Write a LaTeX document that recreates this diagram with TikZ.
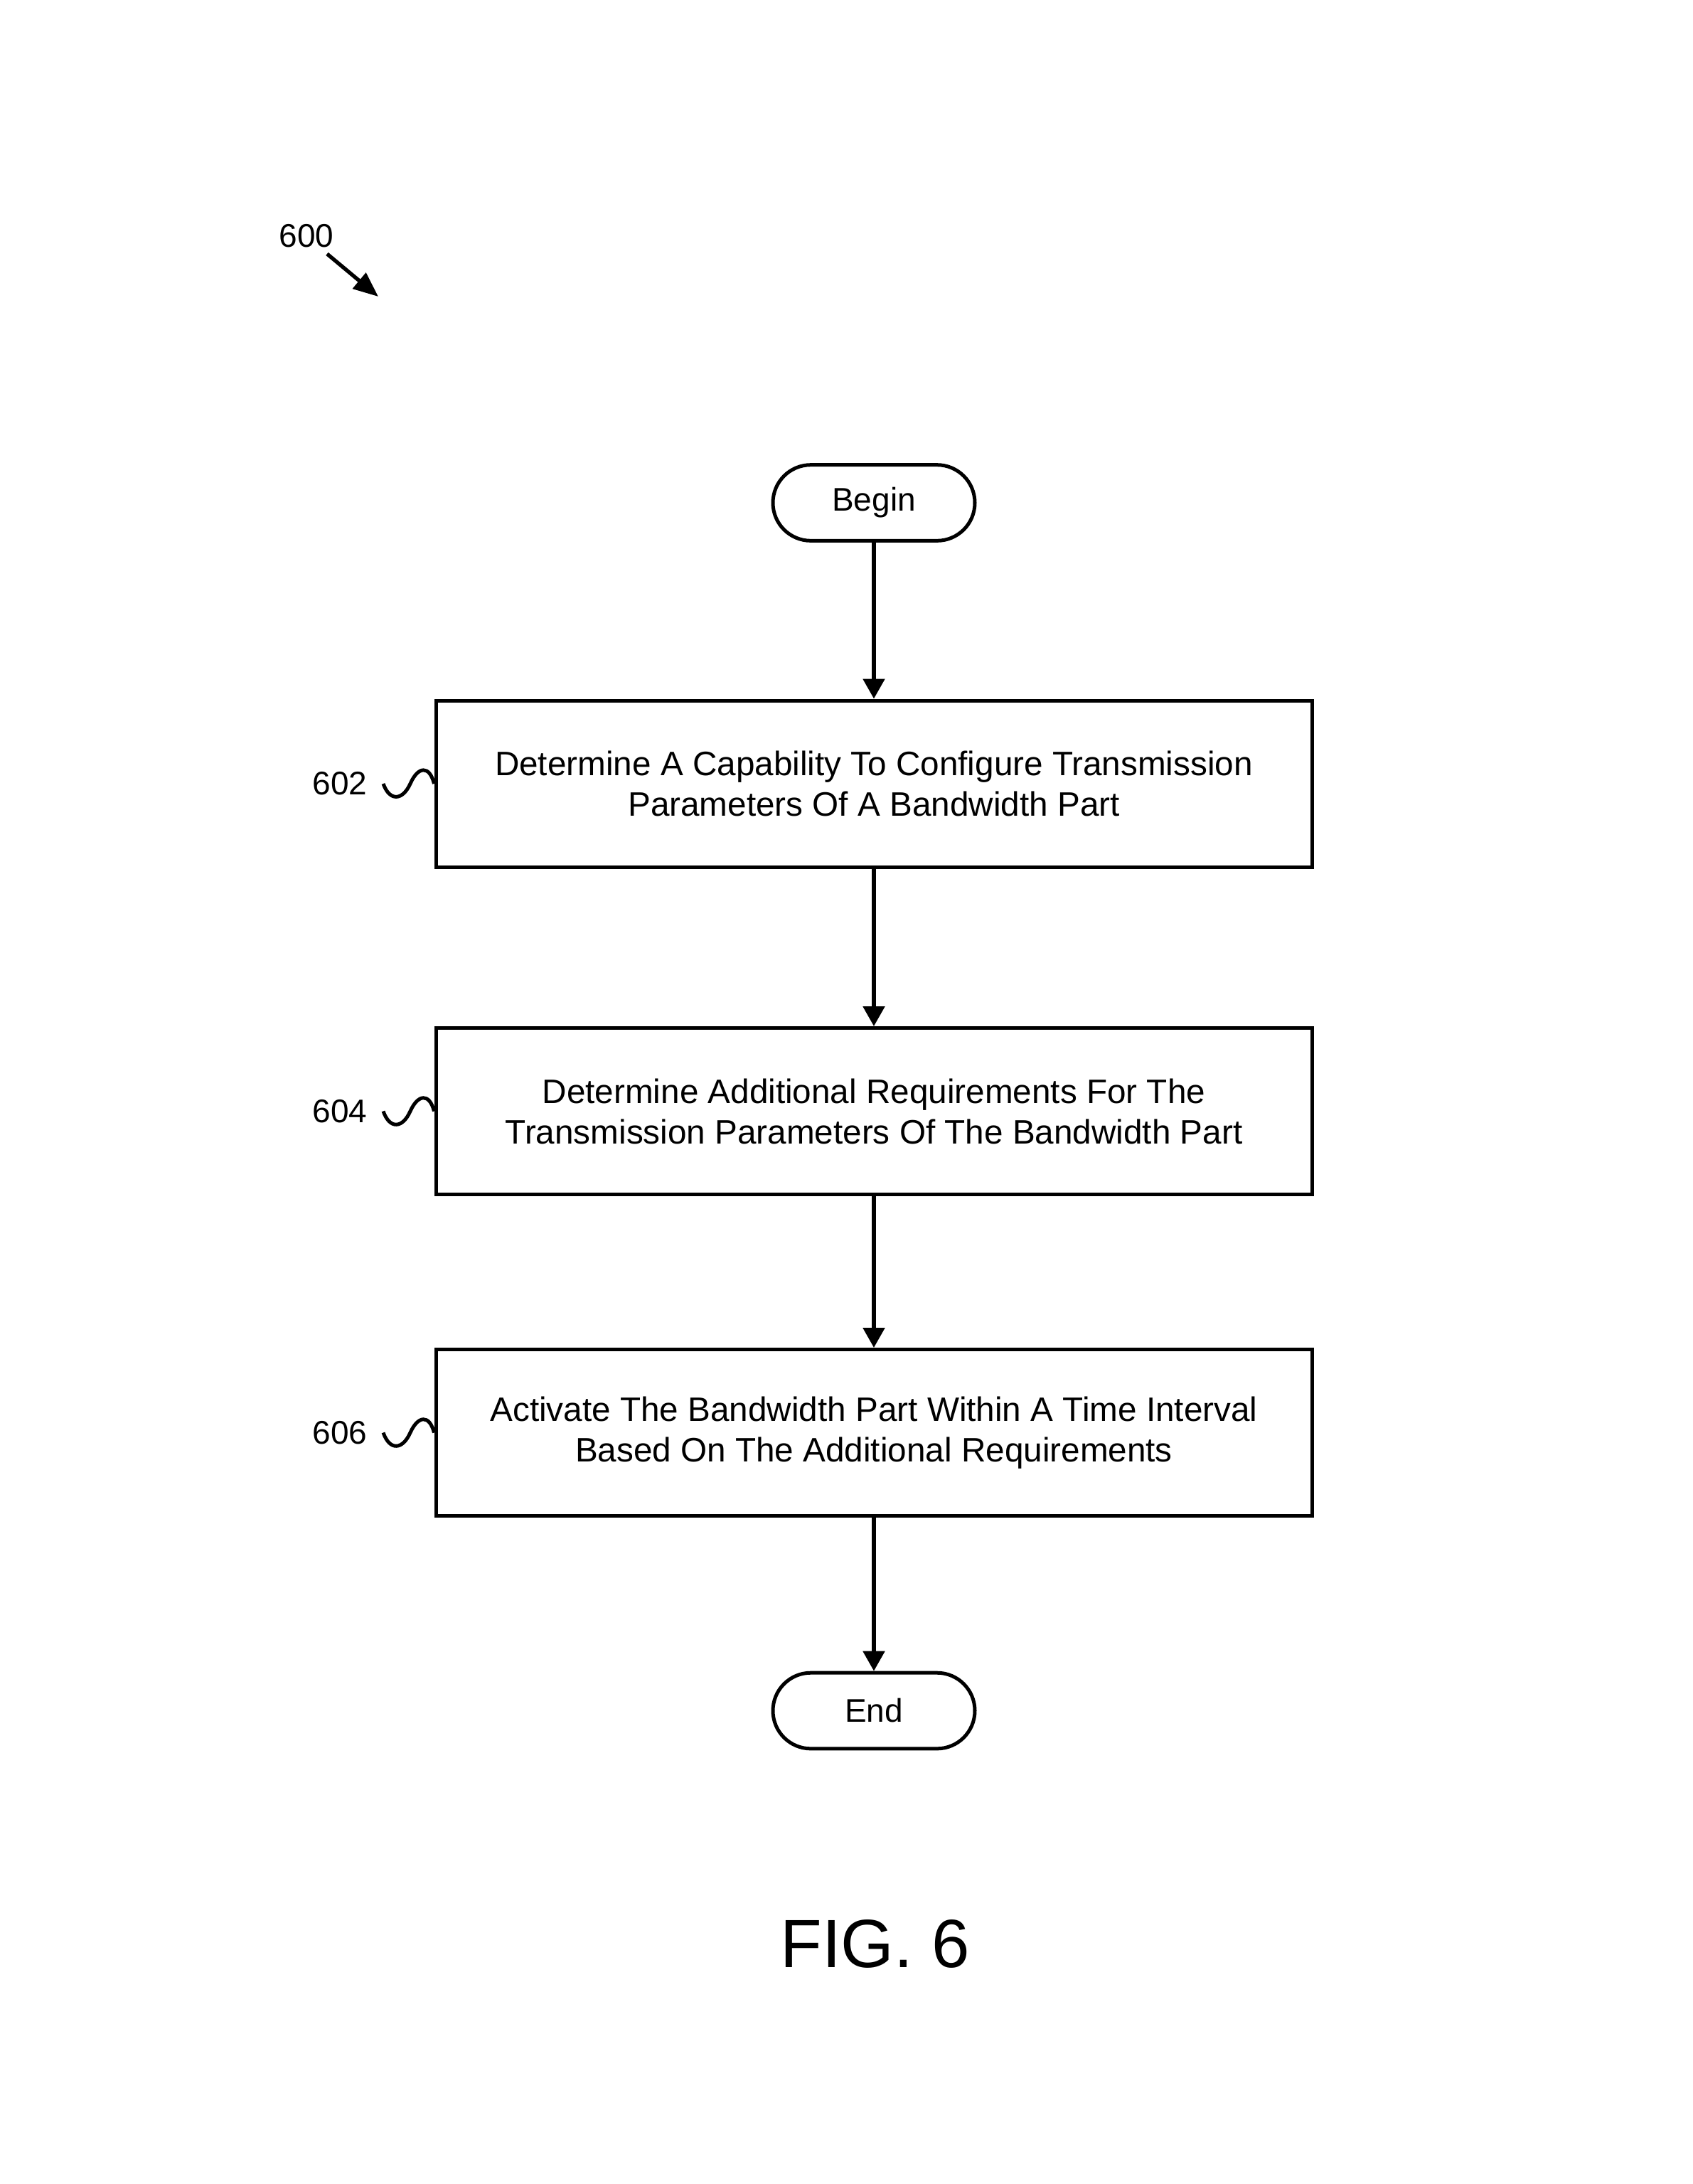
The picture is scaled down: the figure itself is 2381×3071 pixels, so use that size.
\documentclass[tikz,border=0pt]{standalone}
\usepackage{fontspec}
\setmainfont{Liberation Sans}
\usetikzlibrary{arrows.meta}
\begin{document}
\begin{tikzpicture}[x=0.3pt,y=-0.3pt,
  txt/.style={font=\fontsize{13.8pt}{17.1pt}\selectfont, inner sep=0pt},
  stepbox/.style={draw, line width=1.5pt, minimum width=369.6pt, minimum height=70.2pt, align=center, font=\fontsize{14.3pt}{17.1pt}\selectfont, inner sep=0pt},
  term/.style={draw, line width=1.5pt, rounded corners=16pt, minimum width=85.2pt, minimum height=32pt, txt},
  flow/.style={line width=1.6pt, -{Triangle[width=9pt,length=8.4pt]}},
  squig/.style={line width=1.5pt},
  ref/.style={txt}
]
\useasboundingbox (0,0) rectangle (2381,3071);

% title reference
\node[ref] (n600) at (431,332) {600};
\coordinate (a600s) at (460,357);
\coordinate (a600e) at (532,417);
\draw[line width=1.6pt, -{Triangle[width=8.5pt,length=10.5pt]}] (a600s) -- (a600e);

% nodes
\node[term] (begin) at (1229,707) {Begin};
\node[stepbox] (b602) at (1229,1102) {Determine A Capability To Configure Transmission\\Parameters Of A Bandwidth Part};
\node[stepbox] (b604) at (1229,1562.5) {Determine Additional Requirements For The\\Transmission Parameters Of The Bandwidth Part};
\node[stepbox] (b606) at (1229,2014.5) {Activate The Bandwidth Part Within A Time Interval\\Based On The Additional Requirements};
\node[term] (end) at (1229,2405.5) {End};

% connectors
\draw[flow] (begin) -- (b602);
\draw[flow] (b602) -- (b604);
\draw[flow] (b604) -- (b606);
\draw[flow] (b606) -- (end);

% reference labels with squiggles
\node[ref] (l602) at (478,1101.5) {602};
\coordinate (s602) at (539,1102);
\draw[squig] (s602) .. controls (548,1127) and (566,1126) .. (577,1102) .. controls (588,1077) and (604,1076) .. (b602.west);

\node[ref] (l604) at (478,1562.5) {604};
\coordinate (s604) at (539,1562.5);
\draw[squig] (s604) .. controls (548,1588) and (566,1587) .. (577,1562.5) .. controls (588,1538) and (604,1537) .. (b604.west);

\node[ref] (l606) at (478,2014.5) {606};
\coordinate (s606) at (539,2014.5);
\draw[squig] (s606) .. controls (548,2040) and (566,2039) .. (577,2014.5) .. controls (588,1990) and (604,1989) .. (b606.west);

% figure caption
\node[inner sep=0pt, anchor=base, font=\fontsize{28.8pt}{34pt}\selectfont] (fig) at (1231,2766) {FIG. 6};
\end{tikzpicture}
\end{document}
